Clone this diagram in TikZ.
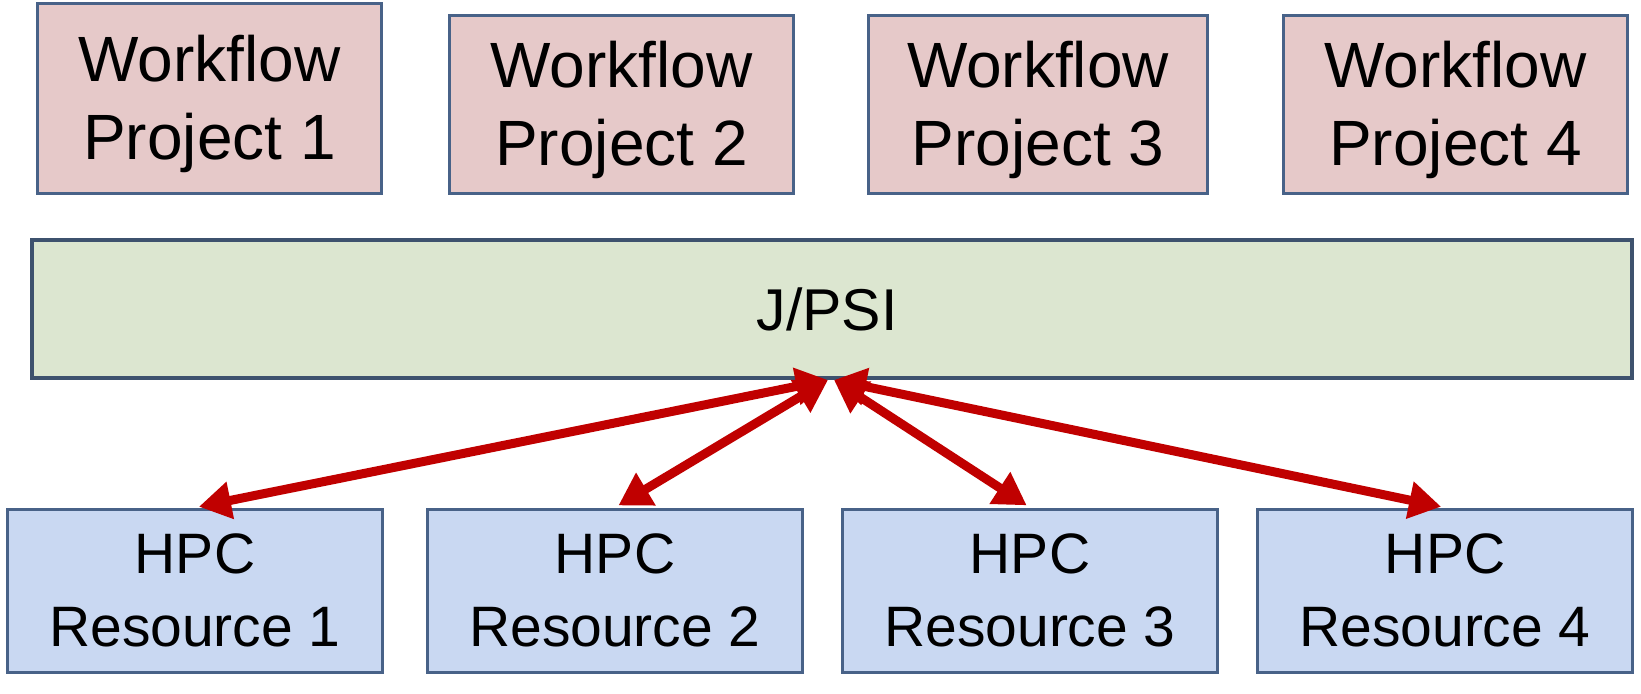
\documentclass[tikz,border=0pt]{standalone}
\usepackage{fontspec}
\setmainfont{Liberation Sans}
\usetikzlibrary{shapes, arrows.meta, positioning}
\definecolor{projfill}{RGB}{230,201,201}
\definecolor{layerfill}{RGB}{220,230,208}
\definecolor{resfill}{RGB}{201,216,242}
\definecolor{edgeblue}{RGB}{72,98,136}
\definecolor{edgedark}{RGB}{62,82,110}
\definecolor{linkred}{RGB}{192,0,0}
\tikzstyle{project} = [rectangle, draw=edgeblue, line width=1.5pt, fill=projfill,
    align=center, minimum width=172pt, minimum height=89pt,
    font=\fontsize{32}{39}\selectfont, execute at begin node=\rule{0pt}{68.5pt}]
\tikzstyle{resource} = [rectangle, draw=edgeblue, line width=1.5pt, fill=resfill,
    align=center, minimum width=187.5pt, minimum height=81.5pt,
    font=\fontsize{28.5}{36.5}\selectfont]
\tikzstyle{layer} = [rectangle, draw=edgedark, line width=2pt, fill=layerfill,
    minimum width=800pt, minimum height=69pt, font=\fontsize{29.5}{34}\selectfont]
\tikzstyle{line} = [draw=linkred, line width=4.5pt, shorten >=2pt,
    {Triangle[length=16pt,width=18pt]}-{Triangle[length=16pt,width=18pt]}]

\begin{document}
\begin{tikzpicture}[x=0.5pt, y=-0.5pt]
\tikzstyle{every node}=[inner sep=0pt]
\useasboundingbox (0,0) rectangle (1641,693);
% workflow projects
\node[project, minimum height=95pt] (proj1) at (209.5,98) {Workflow\\Project 1};
\node[project, right=32.5pt of proj1.south east, anchor=south west] (proj2) {Workflow\\Project 2};
\node[project, minimum width=169.5pt, right=36pt of proj2.south east, anchor=south west] (proj3) {Workflow\\Project 3};
\node[project, right=36.5pt of proj3.south east, anchor=south west] (proj4) {Workflow\\Project 4};
% middle layer
\node[layer] (jpsi) at (832,309) {\hspace*{-5pt}\raisebox{-2pt}{J/PSI}};
% resources
\node[resource] (res1) at (195,590.5) {HPC\\Resource 1};
\node[resource, right=21pt of res1] (res2) {HPC\\Resource 2};
\node[resource, right=18.5pt of res2] (res3) {HPC\\Resource 3};
\node[resource, right=18.5pt of res3] (res4) {HPC\\Resource 4};
\path [line] ([xshift=-2pt]jpsi.south) -- (res1.north);
\path [line] ([xshift=-2pt]jpsi.south) -- (res2.north);
\path [line] ([xshift=1pt]jpsi.south) -- (res3.north);
\path [line] ([xshift=1pt]jpsi.south) -- (res4.north);
\end{tikzpicture}
\end{document}
